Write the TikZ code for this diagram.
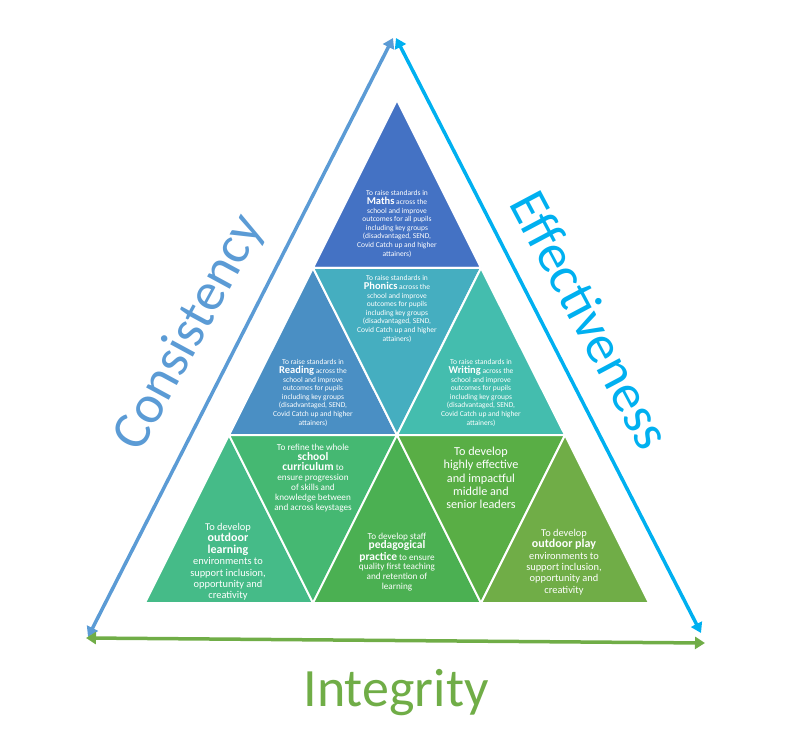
\documentclass[tikz,border=0pt]{standalone}
\usepackage{fontspec}
\setmainfont{Carlito}
\usepackage{tikz}
\usetikzlibrary{positioning, arrows.meta}
\definecolor{mathsblue}{HTML}{4472C4}
\definecolor{phonicsteal}{HTML}{45AEC0}
\definecolor{readingblue}{HTML}{4A8FC4}
\definecolor{writingteal}{HTML}{44BDAE}
\definecolor{outlearn}{HTML}{45BB88}
\definecolor{currgreen}{HTML}{45B872}
\definecolor{pedagreen}{HTML}{4BB052}
\definecolor{leadgreen}{HTML}{59AE45}
\definecolor{outplay}{HTML}{70AD47}
\definecolor{consblue}{HTML}{5B9BD5}
\definecolor{effcyan}{HTML}{00B0F0}
\definecolor{intgreen}{HTML}{70AD47}
\newcommand{\kw}[2]{{\fontsize{#1}{#1}\selectfont\bfseries #2}}

\begin{document}
\begin{tikzpicture}
[x=1pt, y=-1pt,
 tri/.style={draw=white, line width=2pt, line join=round},
 goal/.style={text=white, align=center, inner sep=0pt, font=\fontsize{7.5}{8.6}\selectfont},
 goalmid/.style={goal, font=\fontsize{9.2}{9.9}\selectfont},
 goalbig/.style={goal, font=\fontsize{10.4}{11.4}\selectfont},
 side/.style={line width=3.5pt, arrows={Triangle[length=10pt,width=12pt]-Triangle[length=10pt,width=12pt]}},
 value/.style={inner sep=0pt, font=\fontsize{54}{60}\selectfont}]

\useasboundingbox (0,0) rectangle (787,743);

% corners of the small triangles
\coordinate (p00) at (397,100);
\coordinate (p10) at (313,268);
\coordinate (p11) at (481,268);
\coordinate (p20) at (229,435);
\coordinate (p21) at (397,435);
\coordinate (p22) at (565,435);
\coordinate (p30) at (145,603);
\coordinate (p31) at (313,603);
\coordinate (p32) at (481,603);
\coordinate (p33) at (649,603);

% the nine triangles
\fill[mathsblue, tri] (p00) -- (p10) -- (p11) -- cycle;
\fill[readingblue, tri] (p10) -- (p20) -- (p21) -- cycle;
\fill[phonicsteal, tri] (p10) -- (p11) -- (p21) -- cycle;
\fill[writingteal, tri] (p11) -- (p21) -- (p22) -- cycle;
\fill[outlearn, tri] (p20) -- (p30) -- (p31) -- cycle;
\fill[currgreen, tri] (p20) -- (p21) -- (p31) -- cycle;
\fill[pedagreen, tri] (p21) -- (p31) -- (p32) -- cycle;
\fill[leadgreen, tri] (p21) -- (p22) -- (p32) -- cycle;
\fill[outplay, tri] (p22) -- (p32) -- (p33) -- cycle;

% texts in the triangles
\node[goal] (maths) at (397,224) {To raise standards in\\ \kw{10.5}{Maths} across the\\ school and improve\\ outcomes for all pupils\\ including key groups\\ (disadvantaged, SEND,\\ Covid Catch up and higher\\ attainers)};
\node[goal] (phonics) at (397,309) {To raise standards in\\ \kw{10.5}{Phonics} across the\\ school and improve\\ outcomes for pupils\\ including key groups\\ (disadvantaged, SEND,\\ Covid Catch up and higher\\ attainers)};
\node[goal] (reading) at (313,393) {To raise standards in\\ \kw{10.5}{Reading} across the\\ school and improve\\ outcomes for pupils\\ including key groups\\ (disadvantaged, SEND,\\ Covid Catch up and higher\\ attainers)};
\node[goal] (writing) at (481,393) {To raise standards in\\ \kw{10.5}{Writing} across the\\ school and improve\\ outcomes for pupils\\ including key groups\\ (disadvantaged, SEND,\\ Covid Catch up and higher\\ attainers)};
\node[goalbig] (learning) at (228,562) {To develop\\ \kw{12}{outdoor}\\ \kw{12}{learning}\\ environments to\\ support inclusion,\\ opportunity and\\ creativity};
\node[goalmid] (curriculum) at (313,478) {To refine the whole\\ \kw{11.5}{school}\\ \kw{11.5}{curriculum} to\\ ensure progression\\ of skills and\\ knowledge between\\ and across keystages};
\node[goalmid] (practice) at (397,562) {To develop staff\\ \kw{11.5}{pedagogical}\\ \kw{11.5}{practice} to ensure\\ quality first teaching\\ and retention of\\ learning};
\node[goal, font=\fontsize{12.2}{13.4}\selectfont] (leaders) at (481,478) {To develop\\ highly effective\\ and impactful\\ middle and\\ senior leaders};
\node[goalbig] (play) at (564,562) {To develop\\ \kw{12}{outdoor play}\\ environments to\\ support inclusion,\\ opportunity and\\ creativity};

% outer arrows
\coordinate (topL) at (393,38);
\coordinate (topR) at (396,38);
\coordinate (botL) at (88,637);
\coordinate (botR) at (701,633);
\coordinate (baseL) at (86,638);
\coordinate (baseR) at (705,643);
\draw[side, consblue] (topL) -- (botL);
\draw[side, effcyan] (topR) -- (botR);
\draw[side, intgreen] (baseL) -- (baseR);

% the three values
\node[value, consblue, rotate=61.5] (consistency) at (190,333) {Consistency};
\node[value, effcyan, rotate=-62] (effectiveness) at (591,320) {Effectiveness};
\node[value, intgreen] (integrity) at (396,693) {Integrity};

\end{tikzpicture}
\end{document}
